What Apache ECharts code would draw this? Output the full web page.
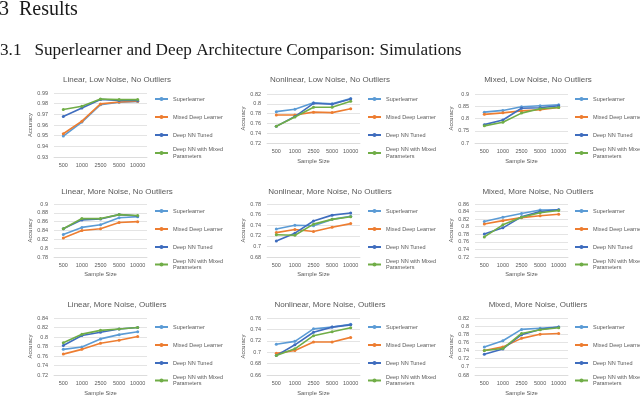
<!DOCTYPE html>
<html>
<head>
<meta charset="utf-8">
<script src="https://cdn.jsdelivr.net/npm/echarts@6/dist/echarts.min.js"></script>
<style>html,body{margin:0;padding:0;background:#fff}#c{width:640px;height:398px}</style>
</head>
<body>
<div id="c"></div>
<script>
const categories = ['500', '1000', '2500', '5000', '10000'];
const seriesNames = ['Superlearner', 'Mixed Deep Learner', 'Deep NN Tuned', 'Deep NN with Mixed Parameters'];
const chartTitles = [
  'Linear, Low Noise, No Outliers', 'Nonlinear, Low Noise, No Outliers', 'Mixed, Low Noise, No Outliers',
  'Linear, More Noise, No Outliers', 'Nonlinear, More Noise, No Outliers', 'Mixed, More Noise, No Outliers',
  'Linear, More Noise, Outliers', 'Nonlinear, More Noise, Outliers', 'Mixed, More Noise, Outliers'
];
// y-axis ticks per chart: min, max, step
const yMin = [0.93, 0.72, 0.7, 0.78, 0.68, 0.72, 0.72, 0.66, 0.68];
const yMax = [0.99, 0.82, 0.9, 0.9, 0.78, 0.86, 0.84, 0.76, 0.82];
const yStep = [0.01, 0.02, 0.05, 0.02, 0.02, 0.02, 0.02, 0.02, 0.02];

// values: [Superlearner, Mixed Deep Learner, Deep NN Tuned, Deep NN with Mixed Parameters]
const linearLowNoOut = [
  [0.9496, 0.9627, 0.979, 0.9813, 0.982],
  [0.9518, 0.9636, 0.9798, 0.9816, 0.9822],
  [0.968, 0.976, 0.984, 0.983, 0.983],
  [0.9745, 0.9776, 0.9844, 0.9838, 0.9838]
];
const nonlinearLowNoOut = [
  [0.784, 0.789, 0.802, 0.800, 0.811],
  [0.777, 0.777, 0.783, 0.782, 0.790],
  [0.754, 0.774, 0.801, 0.799, 0.810],
  [0.754, 0.773, 0.793, 0.793, 0.805]
];
const mixedLowNoOut = [
  [0.826, 0.833, 0.848, 0.852, 0.856],
  [0.817, 0.823, 0.831, 0.836, 0.845],
  [0.775, 0.794, 0.842, 0.844, 0.852],
  [0.770, 0.785, 0.822, 0.840, 0.845]
];
const linearMoreNoOut = [
  [0.831, 0.847, 0.853, 0.869, 0.871],
  [0.823, 0.840, 0.844, 0.858, 0.860],
  [0.844, 0.864, 0.866, 0.876, 0.873],
  [0.844, 0.867, 0.867, 0.876, 0.874]
];
const nonlinearMoreNoOut = [
  [0.733, 0.740, 0.739, 0.751, 0.757],
  [0.726, 0.732, 0.728, 0.736, 0.743],
  [0.710, 0.725, 0.748, 0.759, 0.763],
  [0.722, 0.721, 0.742, 0.751, 0.756]
];
const mixedMoreNoOut = [
  [0.814, 0.825, 0.835, 0.844, 0.845],
  [0.807, 0.816, 0.824, 0.829, 0.833],
  [0.781, 0.797, 0.826, 0.840, 0.845],
  [0.773, 0.805, 0.825, 0.837, 0.843]
];
const linearMoreOut = [
  [0.774, 0.779, 0.796, 0.805, 0.811],
  [0.764, 0.774, 0.787, 0.793, 0.801],
  [0.782, 0.803, 0.810, 0.817, 0.820],
  [0.788, 0.806, 0.814, 0.817, 0.820]
];
const nonlinearMoreOut = [
  [0.714, 0.719, 0.741, 0.744, 0.749],
  [0.698, 0.703, 0.718, 0.718, 0.726],
  [0.694, 0.713, 0.735, 0.744, 0.748],
  [0.694, 0.706, 0.729, 0.736, 0.743]
];
const mixedMoreOut = [
  [0.749, 0.764, 0.792, 0.795, 0.798],
  [0.740, 0.749, 0.770, 0.780, 0.782],
  [0.731, 0.744, 0.779, 0.792, 0.798],
  [0.740, 0.745, 0.782, 0.791, 0.796]
];
const allCharts = [linearLowNoOut, nonlinearLowNoOut, mixedLowNoOut,
  linearMoreNoOut, nonlinearMoreNoOut, mixedMoreNoOut,
  linearMoreOut, nonlinearMoreOut, mixedMoreOut];

const colors = ['#5B9BD5', '#ED7D31', '#3F6DBE', '#70AD47'];
const gray = '#595959';
const gridCol = '#D9D9D9';

const colLeft = [54, 267, 475];
const plotW = 93;
const rowBoxes = [
  [[93, 64], [94, 49], [94, 49]],
  [[204, 53], [204, 53], [204, 53]],
  [[318, 57], [318, 57], [318, 57]]
];
const titleY = [75.5, 187.5, 300.5];
const titleX = [117, 330, 538];
const legendX = [154, 367, 574];
const legendFirst = [99, 211, 327];   // centre of first legend icon per row
const legendLast = [152.5, 264, 380]; // centre of last legend icon per row

const grids = [], xAxes = [], yAxes = [], series = [], titles = [], legends = [];

titles.push({ text: '3\u00A0\u00A0Results', left: -1, top: 0, padding: 0,
  textStyle: { fontFamily: 'Liberation Serif', fontSize: 20, fontWeight: 'normal', color: '#1a1a1a' } });
titles.push({ text: '3.1\u00A0\u00A0\u00A0Superlearner and Deep Architecture Comparison: Simulations', left: 0, top: 42, padding: 0,
  textStyle: { fontFamily: 'Liberation Serif', fontSize: 17.2, fontWeight: 'normal', color: '#1a1a1a' } });

const legendText = { fontSize: 5.5, color: gray, fontFamily: 'Liberation Sans', lineHeight: 6.5 };

for (let i = 0; i < 9; i++) {
  const r = Math.floor(i / 3), c = i % 3;
  const [top, h] = rowBoxes[r][c];
  grids.push({ left: colLeft[c], top: top, width: plotW, height: h, containLabel: false });
  xAxes.push({
    type: 'category', gridIndex: i, data: categories, boundaryGap: true,
    name: i === 0 ? '' : 'Sample Size', nameLocation: 'middle', nameGap: r === 1 ? 14 : 15,
    nameTextStyle: { fontSize: 5.8, color: gray, fontFamily: 'Liberation Sans' },
    axisLine: { lineStyle: { color: gridCol, width: 0.8 } },
    axisTick: { show: false },
    axisLabel: { fontSize: 5.5, color: gray, margin: 5, fontFamily: 'Liberation Sans', interval: 0 }
  });
  yAxes.push({
    type: 'value', gridIndex: i, min: yMin[i], max: yMax[i], interval: yStep[i],
    name: 'Accuracy', nameLocation: 'middle', nameGap: 18,
    nameTextStyle: { fontSize: 5.8, color: gray, fontFamily: 'Liberation Sans' },
    axisLine: { show: false }, axisTick: { show: false },
    splitLine: { lineStyle: { color: gridCol, width: 0.7 } },
    axisLabel: { fontSize: 5.5, color: gray, margin: 6, fontFamily: 'Liberation Sans' }
  });
  titles.push({
    text: chartTitles[i], left: titleX[c], top: titleY[r], textAlign: 'center', padding: 0,
    textStyle: { fontFamily: 'Liberation Sans', fontSize: 8, fontWeight: 'normal', color: gray }
  });
  legends.push({
    orient: 'vertical', left: legendX[c], top: legendFirst[r] - 3.25, padding: 0, height: 80,
    itemWidth: 13, itemHeight: 5, itemGap: 11.5,
    data: seriesNames.slice(0, 3),
    textStyle: legendText, selectedMode: false
  });
  legends.push({
    orient: 'vertical', left: legendX[c], top: legendLast[r] - 9.25, padding: 0, height: 40,
    itemWidth: 13, itemHeight: 5, itemGap: 11.5,
    data: [{ name: seriesNames[3], textStyle: { padding: [6.5, 0, 0, 0] } }],
    formatter: n => n.replace(' Parameters', '\nParameters'),
    textStyle: legendText, selectedMode: false
  });
  allCharts[i].forEach((vals, k) => {
    series.push({
      type: 'line', name: seriesNames[k], xAxisIndex: i, yAxisIndex: i, data: vals,
      symbol: 'circle', symbolSize: 3, color: colors[k],
      lineStyle: { width: 1.6, color: colors[k] },
      itemStyle: { color: colors[k] }, z: 2 + k, animation: false
    });
  });
}

const chart = echarts.init(document.getElementById('c'), null, { renderer: 'canvas' });
chart.setOption({
  backgroundColor: '#ffffff', animation: false,
  title: titles, legend: legends, grid: grids, xAxis: xAxes, yAxis: yAxes, series: series
});
</script>
</body>
</html>
